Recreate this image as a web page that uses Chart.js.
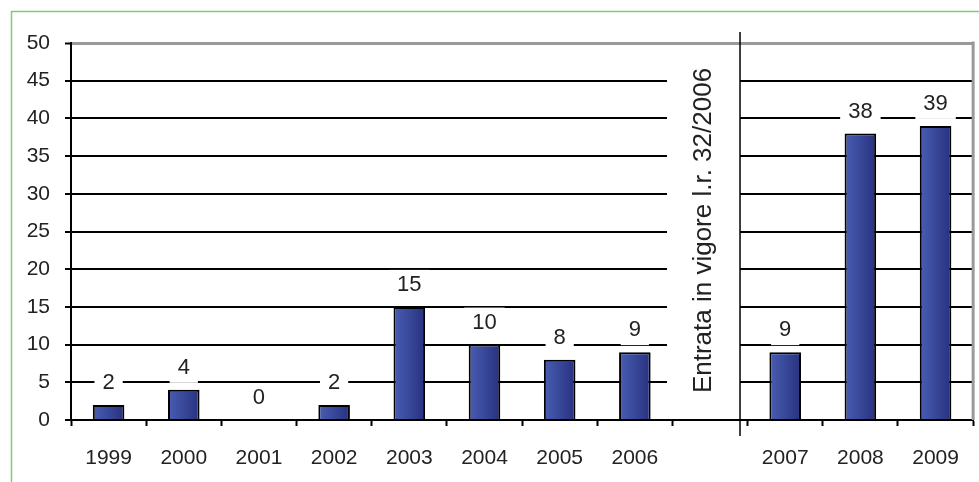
<!DOCTYPE html>
<html>
<head>
<meta charset="utf-8">
<script src="https://cdn.jsdelivr.net/npm/chart.js@4"></script>
<style>
  html, body { margin: 0; padding: 0; background: #fff; }
  #wrap { width: 979px; height: 482px; position: relative; }
</style>
</head>
<body>
<div id="wrap"><canvas id="chart" width="979" height="482"></canvas></div>
<script>
// values
const years = ['1999', '2000', '2001', '2002', '2003', '2004', '2005', '2006', '', '2007', '2008', '2009'];
const counts = [2, 4, 0, 2, 15, 10, 8, 9, null, 9, 38, 39];
const yTicks = [0, 5, 10, 15, 20, 25, 30, 35, 40, 45, 50];
const noteText = 'Entrata in vigore l.r. 32/2006';
const noteIndex = 8;

const FONT = "'Liberation Sans', Arial, sans-serif";
const TEXT = '#222222';

Chart.defaults.font.family = FONT;
Chart.defaults.color = TEXT;

// green frame + gray right border of the plot
const framePlugin = {
    id: 'frame',
    beforeDraw(chart) {
        const c = chart.ctx;
        c.save();
        c.fillStyle = '#fff';
        c.fillRect(0, 0, chart.width, chart.height);
        c.strokeStyle = '#7dcd7d';
        c.lineWidth = 1.5;
        c.strokeRect(11.5, 11.5, chart.width + 20, chart.height + 20);
        c.restore();
    },
    afterDraw(chart) {
        const a = chart.chartArea;
        const c = chart.ctx;
        c.save();
        c.strokeStyle = '#999';
        c.lineWidth = 3;
        c.beginPath();
        c.moveTo(a.right, a.top - 1.5);
        c.lineTo(a.right, a.bottom);
        c.stroke();
        c.restore();
    }
};

// white box with the vertical note and the separator line
const notePlugin = {
    id: 'note',
    beforeDatasetsDraw(chart) {
        const a = chart.chartArea;
        const x = chart.scales.x.getPixelForValue(noteIndex);
        const c = chart.ctx;
        c.save();
        c.fillStyle = '#fff';
        c.fillRect(x - 43, a.top + 3, 73, a.bottom - a.top - 5);
        c.strokeStyle = '#000';
        c.lineWidth = 1.5;
        c.beginPath();
        c.moveTo(x + 30, a.top - 11);
        c.lineTo(x + 30, a.bottom + 16);
        c.stroke();
        c.translate(x - 6, (a.top + a.bottom) / 2 - 1);
        c.rotate(-Math.PI / 2);
        c.font = '26px ' + FONT;
        c.fillStyle = TEXT;
        c.textAlign = 'center';
        c.textBaseline = 'middle';
        c.fillText(noteText, 0, 0);
        c.restore();
    }
};

// value labels on white boxes above bars
const valuePlugin = {
    id: 'values',
    afterDatasetsDraw(chart) {
        const c = chart.ctx;
        const meta = chart.getDatasetMeta(0);
        c.save();
        c.font = '22px ' + FONT;
        c.textAlign = 'center';
        c.textBaseline = 'middle';
        meta.data.forEach((bar, i) => {
            const v = counts[i];
            if (v === null) return;
            const t = String(v);
            const w = c.measureText(t).width + 16;
            const y = bar.y - 22;
            c.fillStyle = '#fff';
            c.fillRect(bar.x - w / 2, y - 15, w, 30);
            c.fillStyle = TEXT;
            c.fillText(t, bar.x, y);
        });
        c.restore();
    }
};

function barFill(ctx) {
    const xs = ctx.chart.scales.x;
    if (!xs || ctx.type !== 'data') return '#3a4a9c';
    const cx = xs.getPixelForValue(ctx.dataIndex);
    if (!Number.isFinite(cx)) return '#3a4a9c';
    const g = ctx.chart.ctx.createLinearGradient(cx - 16, 0, cx + 16, 0);
    g.addColorStop(0, '#4a5eb3');
    g.addColorStop(1, '#27317f');
    return g;
}

new Chart(document.getElementById('chart'), {
    type: 'bar',
    data: {
        labels: years,
        datasets: [{
            data: counts,
            backgroundColor: barFill,
            borderColor: '#000',
            borderWidth: 2,
            borderSkipped: 'bottom',
            barPercentage: 0.42,
            categoryPercentage: 1
        }]
    },
    options: {
        responsive: false,
        animation: false,
        layout: { padding: { left: 0, top: 43, right: 2, bottom: 0 } },
        plugins: {
            legend: { display: false },
            tooltip: { enabled: false }
        },
        scales: {
            x: {
                offset: true,
                grid: {
                    offset: true,
                    drawOnChartArea: false,
                    drawTicks: true,
                    tickLength: 6,
                    tickColor: '#000',
                    tickWidth: 2
                },
                border: { color: '#000', width: 2 },
                ticks: {
                    font: { size: 21 },
                    color: TEXT,
                    padding: 20,
                    maxRotation: 0,
                    autoSkip: false
                },
                afterFit(scale) { scale.height = 62; }
            },
            y: {
                min: 0,
                max: 50,
                afterBuildTicks(scale) { scale.ticks = yTicks.map(v => ({ value: v })); },
                grid: {
                    color: ctx => (ctx.tick && ctx.tick.value === 50 ? '#999' : '#000'),
                    lineWidth: ctx => (ctx.tick && ctx.tick.value === 50 ? 3 : 2),
                    tickLength: 6,
                    tickColor: '#000',
                    tickWidth: 2
                },
                border: { color: '#000', width: 2 },
                ticks: {
                    font: { size: 21 },
                    color: TEXT,
                    padding: 15
                },
                afterFit(scale) { scale.width = 71; }
            }
        }
    },
    plugins: [framePlugin, notePlugin, valuePlugin]
});
</script>
</body>
</html>
